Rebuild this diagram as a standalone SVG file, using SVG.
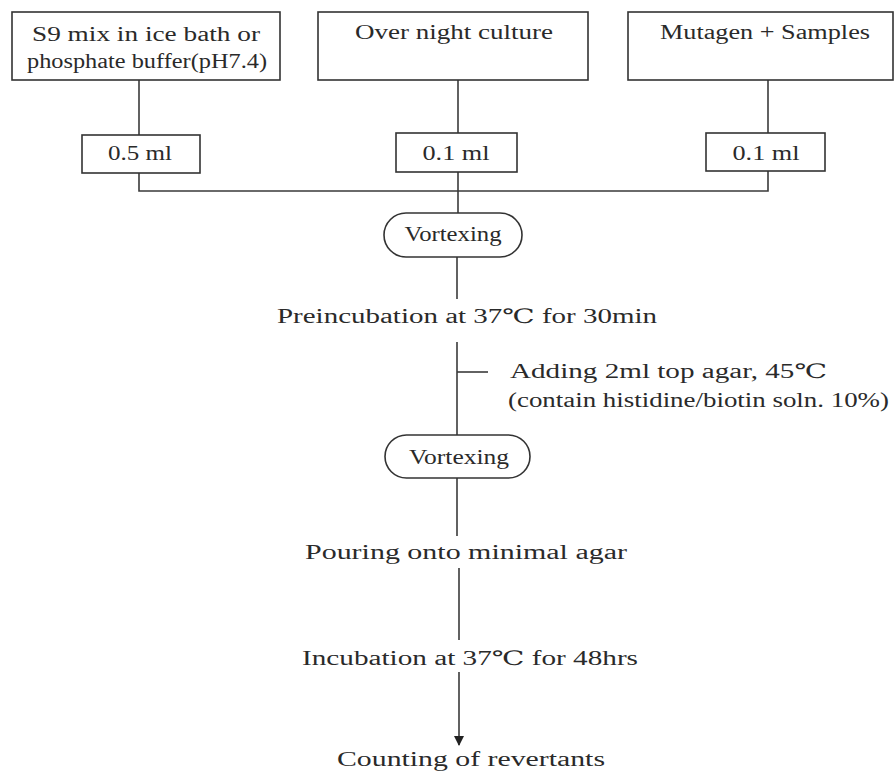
<svg xmlns="http://www.w3.org/2000/svg" width="895" height="773" viewBox="0 0 895 773">
<style>
.t{font-family:"Liberation Serif","DejaVu Serif",serif;font-size:20px;fill:#2a2a2a;}
.b{fill:#fff;stroke:#333;stroke-width:1.6;}
.c{fill:none;stroke:#3a3a3a;stroke-width:1.6;}
</style>
<defs>
<marker id="ah" markerWidth="10" markerHeight="12" refX="9" refY="5" orient="auto" markerUnits="userSpaceOnUse">
<path d="M0,0 L10,5 L0,10 Z" fill="#222"/>
</marker>
</defs>
<rect width="895" height="773" fill="#fff"/>
<g id="connectors">
<line class="c" x1="139" y1="80" x2="139" y2="135"/>
<line class="c" x1="458" y1="80" x2="458" y2="133"/>
<line class="c" x1="768" y1="80" x2="768" y2="133"/>
<polyline class="c" points="139,173 139,191 768,191 768,171"/>
<line class="c" x1="458" y1="172" x2="458" y2="213"/>
<line class="c" x1="457" y1="257" x2="457" y2="299"/>
<line class="c" x1="457" y1="342" x2="457" y2="435"/>
<line class="c" x1="457" y1="372" x2="488" y2="372"/>
<line class="c" x1="457" y1="478" x2="457" y2="536"/>
<line class="c" x1="459" y1="568" x2="459" y2="640"/>
<line class="c" x1="459" y1="672" x2="459" y2="745" marker-end="url(#ah)"/>
</g>
<g id="n-s9">
<rect class="b" x="12" y="12" width="268" height="68"/>
<text class="t" x="146" y="41" text-anchor="middle" textLength="228" lengthAdjust="spacingAndGlyphs">S9 mix in ice bath or</text>
<text class="t" x="147" y="68" text-anchor="middle" textLength="240" lengthAdjust="spacingAndGlyphs">phosphate buffer(pH7.4)</text>
</g>
<g id="n-culture">
<rect class="b" x="318" y="12" width="270" height="68"/>
<text class="t" x="454" y="39" text-anchor="middle" textLength="198" lengthAdjust="spacingAndGlyphs">Over night culture</text>
</g>
<g id="n-mutagen">
<rect class="b" x="628" y="12" width="265" height="68"/>
<text class="t" x="765" y="39" text-anchor="middle" textLength="210" lengthAdjust="spacingAndGlyphs">Mutagen + Samples</text>
</g>
<g id="n-05">
<rect class="b" x="82" y="135" width="118" height="38"/>
<text class="t" x="140" y="160" text-anchor="middle" textLength="64" lengthAdjust="spacingAndGlyphs">0.5 ml</text>
</g>
<g id="n-01a">
<rect class="b" x="396" y="133" width="121" height="39"/>
<text class="t" x="456" y="160" text-anchor="middle" textLength="67" lengthAdjust="spacingAndGlyphs">0.1 ml</text>
</g>
<g id="n-01b">
<rect class="b" x="706" y="133" width="119" height="38"/>
<text class="t" x="766" y="160" text-anchor="middle" textLength="67" lengthAdjust="spacingAndGlyphs">0.1 ml</text>
</g>
<g id="n-vortex1">
<rect class="b" x="384" y="213" width="138" height="44" rx="22" ry="22"/>
<text class="t" x="453" y="241" text-anchor="middle" textLength="97" lengthAdjust="spacingAndGlyphs">Vortexing</text>
</g>
<g id="n-preinc">
<text class="t" x="467" y="323" text-anchor="middle" textLength="380" lengthAdjust="spacingAndGlyphs">Preincubation at 37℃ for 30min</text>
</g>
<g id="n-adding">
<text class="t" x="510" y="378" textLength="317" lengthAdjust="spacingAndGlyphs">Adding 2ml top agar, 45℃</text>
<text class="t" x="508" y="407" textLength="381" lengthAdjust="spacingAndGlyphs">(contain histidine/biotin soln. 10%)</text>
</g>
<g id="n-vortex2">
<rect class="b" x="385" y="435" width="145" height="43" rx="21.5" ry="21.5"/>
<text class="t" x="459" y="464" text-anchor="middle" textLength="100" lengthAdjust="spacingAndGlyphs">Vortexing</text>
</g>
<g id="n-pouring">
<text class="t" x="466" y="559" text-anchor="middle" textLength="322" lengthAdjust="spacingAndGlyphs">Pouring onto minimal agar</text>
</g>
<g id="n-incub">
<text class="t" x="470" y="665" text-anchor="middle" textLength="336" lengthAdjust="spacingAndGlyphs">Incubation at 37℃ for 48hrs</text>
</g>
<g id="n-count">
<text class="t" x="471" y="766" text-anchor="middle" textLength="268" lengthAdjust="spacingAndGlyphs">Counting of revertants</text>
</g>
</svg>
